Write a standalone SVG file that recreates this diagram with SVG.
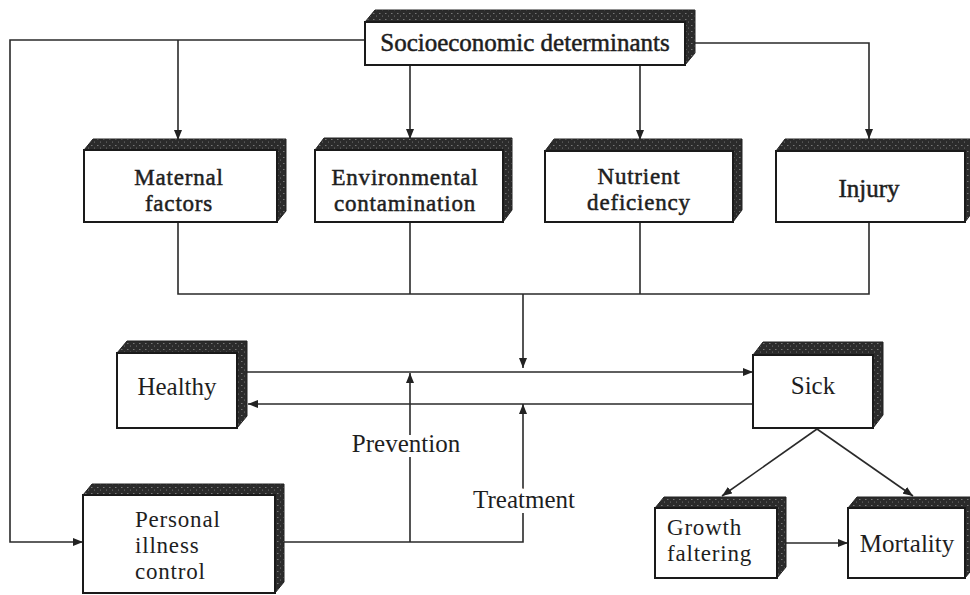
<svg xmlns="http://www.w3.org/2000/svg" width="970" height="595" viewBox="0 0 970 595">
<defs>
<marker id="ah" viewBox="0 0 10 8" refX="10" refY="4" markerWidth="10" markerHeight="8" markerUnits="userSpaceOnUse" orient="auto">
<path d="M0,0 L10,4 L0,8 z" fill="#222"/>
</marker>
<pattern id="tex" width="6" height="6" patternUnits="userSpaceOnUse">
<rect width="6" height="6" fill="#2b2b2b"/>
<rect x="1" y="1" width="1.5" height="1" fill="#777"/>
<rect x="4" y="3.5" width="1" height="1.2" fill="#666"/>
</pattern>
<style>
.shade{fill:url(#tex);stroke:#222;stroke-width:1}
.face{fill:#fff;stroke:#1a1a1a;stroke-width:2}
.t{font-family:"Liberation Serif","Times New Roman",serif;font-size:25px;fill:#1e1e1e}
.s{font-size:23px;letter-spacing:0.8px}
.c{text-anchor:middle}
.b{stroke:#1e1e1e;stroke-width:0.5}
.ln{fill:none;stroke:#2a2a2a;stroke-width:1.6}
.lab{paint-order:stroke;stroke:#fff;stroke-width:10px;stroke-linejoin:round}
</style>
</defs>
<rect width="970" height="595" fill="#fff"/>

<g id="connectors">
<polyline class="ln" points="365,40 10,40 10,542 83,542" marker-end="url(#ah)"/>
<line class="ln" x1="178" y1="40" x2="178" y2="140" marker-end="url(#ah)"/>
<line class="ln" x1="410" y1="65" x2="410" y2="139" marker-end="url(#ah)"/>
<line class="ln" x1="640" y1="65" x2="640" y2="140" marker-end="url(#ah)"/>
<polyline class="ln" points="695,43 869,43 869,139" marker-end="url(#ah)"/>
<polyline class="ln" points="178,222 178,294 869,294 869,222"/>
<line class="ln" x1="410" y1="222" x2="410" y2="294"/>
<line class="ln" x1="640" y1="222" x2="640" y2="294"/>
<line class="ln" x1="523" y1="294" x2="523" y2="368" marker-end="url(#ah)"/>
<line class="ln" x1="247" y1="372" x2="753" y2="372" marker-end="url(#ah)"/>
<line class="ln" x1="753" y1="404" x2="248" y2="404" marker-end="url(#ah)"/>
<polyline class="ln" points="284,542 523,542 523,404" marker-end="url(#ah)"/>
<line class="ln" x1="410" y1="542" x2="410" y2="373" marker-end="url(#ah)"/>
<line class="ln" x1="817" y1="429" x2="722" y2="496" marker-end="url(#ah)"/>
<line class="ln" x1="817" y1="429" x2="913" y2="496" marker-end="url(#ah)"/>
<line class="ln" x1="785" y1="543" x2="848" y2="543" marker-end="url(#ah)"/>
<text class="t c lab" x="406" y="452">Prevention</text>
<text class="t c lab" x="524" y="508">Treatment</text>
</g>

<g id="socioeconomic">
<polygon class="shade" points="365,22 375,10 695,10 695,53 685,65"/>
<rect class="face" x="365" y="22" width="320" height="43"/>
<text class="t c b" x="525" y="51">Socioeconomic determinants</text>
</g>

<g id="maternal">
<polygon class="shade" points="84,150 93,139 286,139 286,211 277,222"/>
<rect class="face" x="84" y="150" width="193" height="72"/>
<text class="t s c b" x="179" y="185">Maternal</text>
<text class="t s c b" x="179" y="211">factors</text>
</g>

<g id="environmental">
<polygon class="shade" points="315,150 324,138 512,138 512,210 503,222"/>
<rect class="face" x="315" y="150" width="188" height="72"/>
<text class="t s c b" x="405" y="185">Environmental</text>
<text class="t s c b" x="405" y="211">contamination</text>
</g>

<g id="nutrient">
<polygon class="shade" points="545,151 554,139 742,139 742,210 733,222"/>
<rect class="face" x="545" y="151" width="188" height="71"/>
<text class="t s c b" x="639" y="184">Nutrient</text>
<text class="t s c b" x="639" y="210">deficiency</text>
</g>

<g id="injury">
<polygon class="shade" points="776,151 785,139 974,139 974,210 965,222"/>
<rect class="face" x="776" y="151" width="189" height="71"/>
<text class="t c b" x="869" y="197">Injury</text>
</g>

<g id="healthy">
<polygon class="shade" points="117,353 127,341 247,341 247,416 237,428"/>
<rect class="face" x="117" y="353" width="120" height="75"/>
<text class="t c" x="177" y="395">Healthy</text>
</g>

<g id="sick">
<polygon class="shade" points="753,355 763,342 883,342 883,415 873,428"/>
<rect class="face" x="753" y="355" width="120" height="73"/>
<text class="t c" x="813" y="394">Sick</text>
</g>

<g id="personal">
<polygon class="shade" points="83,495 92,484 284,484 284,582 275,593"/>
<rect class="face" x="83" y="495" width="192" height="98"/>
<text class="t s" x="135" y="527">Personal</text>
<text class="t s" x="135" y="553">illness</text>
<text class="t s" x="135" y="579">control</text>
</g>

<g id="growth">
<polygon class="shade" points="655,508 664,497 786,497 786,567 777,578"/>
<rect class="face" x="655" y="508" width="122" height="70"/>
<text class="t s" x="667" y="535">Growth</text>
<text class="t s" x="667" y="561">faltering</text>
</g>

<g id="mortality">
<polygon class="shade" points="848,508 857,497 974,497 974,567 965,578"/>
<rect class="face" x="848" y="508" width="117" height="70"/>
<text class="t c" x="907" y="552">Mortality</text>
</g>
</svg>
